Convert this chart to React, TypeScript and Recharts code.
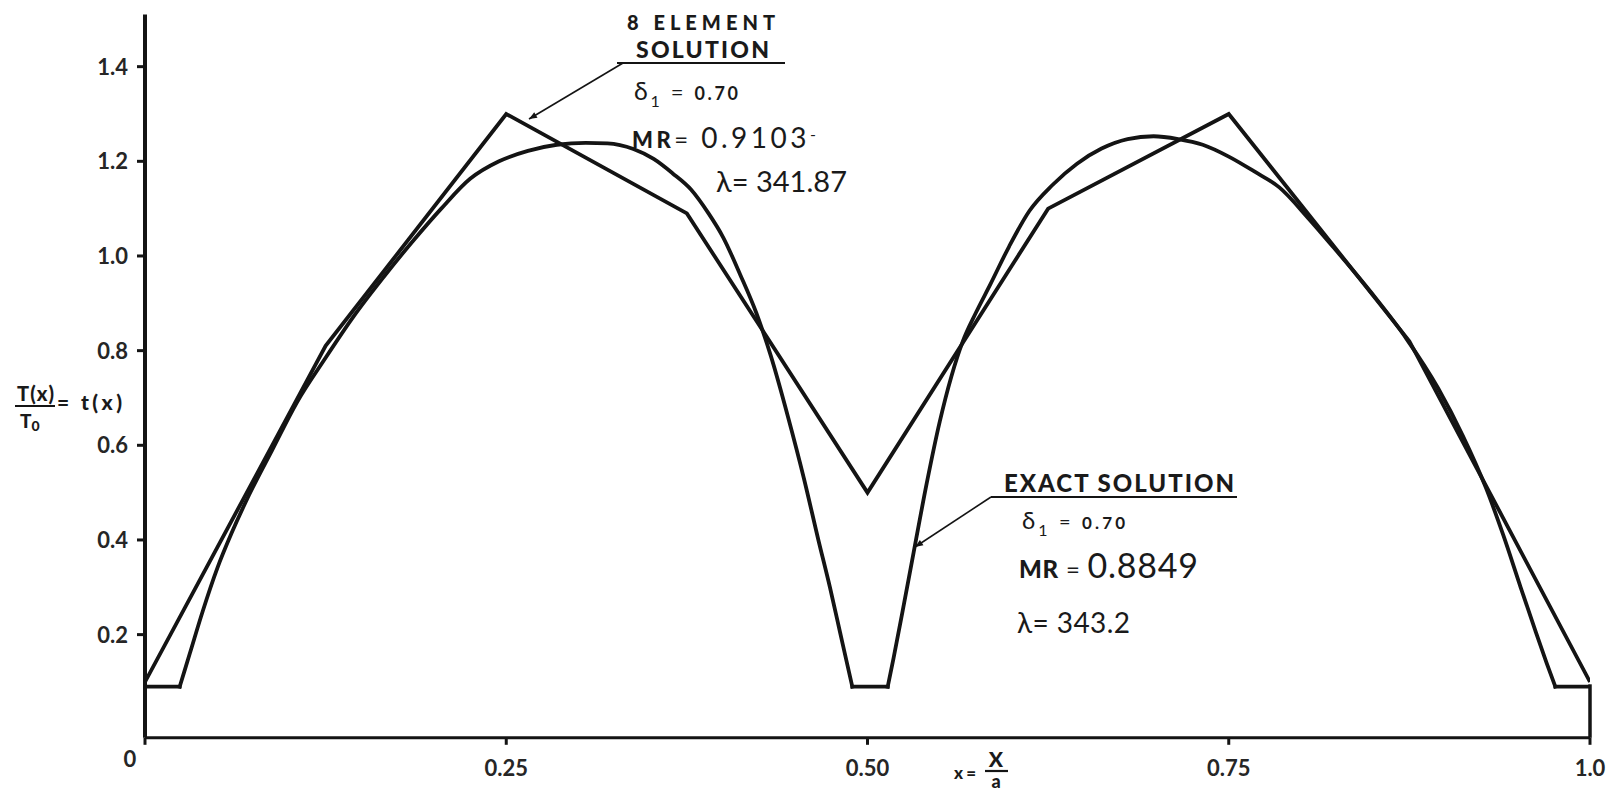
import React from 'react';
import { LineChart, Line, XAxis, YAxis, ReferenceLine } from 'recharts';

// 8-element finite element solution (nodal values)
const elementX = [0, 0.125, 0.25, 0.375, 0.5, 0.625, 0.75, 0.875, 1.0];
const elementT = [0.10, 0.81, 1.30, 1.09, 0.50, 1.10, 1.30, 0.82, 0.10];

// Exact solution
const exactX = [
  0.000, 0.024, 0.031, 0.040, 0.050, 0.060, 0.072, 0.088, 0.105, 0.125,
  0.145, 0.165, 0.185, 0.205, 0.225, 0.245, 0.265, 0.285, 0.305, 0.320,
  0.338, 0.352, 0.365, 0.378, 0.390, 0.400, 0.412, 0.423, 0.433, 0.445,
  0.456, 0.466, 0.474, 0.481, 0.486, 0.4895, 0.514, 0.518, 0.524, 0.532,
  0.541, 0.550, 0.558, 0.566, 0.575, 0.585, 0.598, 0.612, 0.628, 0.645,
  0.662, 0.680, 0.698, 0.715, 0.732, 0.750, 0.768, 0.785, 0.805, 0.822,
  0.848, 0.873, 0.895, 0.912, 0.928, 0.940, 0.952, 0.962, 0.970, 0.976,
  1.000,
];
const exactT = [
  0.09, 0.09, 0.16, 0.25, 0.34, 0.415, 0.495, 0.59, 0.69, 0.785,
  0.875, 0.955, 1.03, 1.10, 1.163, 1.200, 1.222, 1.235, 1.239, 1.238,
  1.226, 1.205, 1.175, 1.14, 1.09, 1.04, 0.96, 0.88, 0.79, 0.66,
  0.53, 0.40, 0.30, 0.205, 0.137, 0.09, 0.09, 0.15, 0.245, 0.375,
  0.52, 0.65, 0.745, 0.82, 0.88, 0.94, 1.02, 1.095, 1.15, 1.195,
  1.227, 1.247, 1.253, 1.247, 1.235, 1.21, 1.178, 1.145, 1.08, 1.02,
  0.925, 0.825, 0.72, 0.62, 0.51, 0.41, 0.30, 0.21, 0.14, 0.09,
  0.09,
];
// indices where the exact curve has sharp corners (ends of the flat floors)
const exactCorners = [0, 1, 35, 36, 69, 70];

const xTicks = [0, 0.25, 0.5, 0.75, 1.0];
const xTickLabels = ['0', '0.25', '0.50', '0.75', '1.0'];
const yTicks = [0.2, 0.4, 0.6, 0.8, 1.0, 1.2, 1.4];
const yTickLabels = ['0.2', '0.4', '0.6', '0.8', '1.0', '1.2', '1.4'];
const yDomain: [number, number] = [-0.018, 1.51];
const rightEdgeX = 1.0;
const rightEdgeTop = 0.095;

const elementData = elementX.map((x, i) => ({ x, t: elementT[i] }));
const exactData = exactX.map((x, i) => ({ x, t: exactT[i] }));
const exactSegments = exactCorners.slice(0, -1).map((start, k) =>
  exactData.slice(start, exactCorners[k + 1] + 1)
);

const INK = '#141414';
const FONT = "Lato, 'DejaVu Sans', sans-serif";

const YTick = (props: any) => {
  const { x, y, payload } = props;
  const i = yTicks.findIndex((v) => Math.abs(v - payload.value) < 1e-9);
  return (
    <text x={x} y={y} dy={8} textAnchor="end" fontFamily={FONT} fontSize={22} fontWeight={700} fill="#262626">
      {i >= 0 ? yTickLabels[i] : ''}
    </text>
  );
};

const XTick = (props: any) => {
  const { x, y, payload } = props;
  const i = xTicks.findIndex((v) => Math.abs(v - payload.value) < 1e-9);
  const isZero = i === 0;
  return (
    <text x={isZero ? x - 15 : x} y={y} dy={isZero ? 22 : 31} textAnchor="middle" fontFamily={FONT} fontSize={22} fontWeight={700} fill="#262626">
      {i >= 0 ? xTickLabels[i] : ''}
    </text>
  );
};

export default function App() {
  return (
    <div style={{ position: 'absolute', left: 0, top: 0, width: 1619, height: 798, background: '#fff' }}>
      <LineChart width={1619} height={798} margin={{ top: 14.6, right: 29, bottom: 10.2, left: 85 }}>
        <XAxis
          type="number"
          dataKey="x"
          domain={[0, 1]}
          ticks={xTicks}
          tick={<XTick />}
          tickSize={7}
          tickMargin={0}
          height={50}
          axisLine={{ stroke: INK, strokeWidth: 3 }}
          tickLine={{ stroke: INK, strokeWidth: 3 }}
          allowDataOverflow
        />
        <YAxis
          type="number"
          dataKey="t"
          domain={yDomain}
          ticks={yTicks}
          tick={<YTick />}
          tickSize={8}
          tickMargin={9}
          width={60}
          axisLine={{ stroke: INK, strokeWidth: 4 }}
          tickLine={{ stroke: INK, strokeWidth: 3 }}
          allowDataOverflow
        />
        <ReferenceLine
          segment={[{ x: rightEdgeX, y: yDomain[0] }, { x: rightEdgeX, y: rightEdgeTop }]}
          stroke={INK}
          strokeWidth={3.5}
          ifOverflow="visible"
        />
        {exactSegments.map((seg, k) => (
          <Line
            key={`exact-${k}`}
            data={seg}
            dataKey="t"
            type="monotoneX"
            stroke={INK}
            strokeWidth={3.8}
            dot={false}
            isAnimationActive={false}
            strokeLinejoin="miter"
            strokeLinecap="square"
          />
        ))}
        <Line
          data={elementData}
          dataKey="t"
          type="linear"
          stroke={INK}
          strokeWidth={3.8}
          dot={false}
          isAnimationActive={false}
          strokeLinejoin="miter"
        />
      </LineChart>

      <svg style={{ position: 'absolute', left: 0, top: 0, pointerEvents: 'none' }} width={1619} height={798}>
        <defs>
          <marker id="arr" viewBox="0 0 10 10" refX="10" refY="5" markerWidth="12" markerHeight="8" orient="auto" markerUnits="userSpaceOnUse">
            <path d="M0,1 L10,5 L0,9 z" fill={INK} />
          </marker>
        </defs>

        {/* Y axis label */}
        <g fontFamily={FONT} fill="#1a1a1a" fontWeight={900}>
          <text x={17} y={401} fontSize={20} textLength={37} lengthAdjust="spacing">T(x)</text>
          <line x1={15} y1={406} x2={55} y2={406} stroke={INK} strokeWidth={2.2} />
          <text x={20} y={428} fontSize={19}>
            T<tspan fontSize={14} dy={3}>0</tspan>
          </text>
          <text x={57} y={410} fontSize={21} textLength={65} lengthAdjust="spacing">= t(x)</text>
        </g>

        {/* X axis label */}
        <g fontFamily={FONT} fill="#1a1a1a" fontWeight={900}>
          <text x={954} y={779} fontSize={17} textLength={22} lengthAdjust="spacing">x=</text>
          <text x={996} y={767} textAnchor="middle" fontSize={21}>X</text>
          <line x1={985} y1={771} x2={1008} y2={771} stroke={INK} strokeWidth={2.2} />
          <text x={996} y={788} textAnchor="middle" fontSize={18}>a</text>
        </g>

        {/* 8 element annotation */}
        <g fontFamily={FONT} fill="#1a1a1a">
          <text x={627} y={30} fontSize={20} fontWeight={900} textLength={148} lengthAdjust="spacing">8 ELEMENT</text>
          <text x={636} y={58} fontSize={23} fontWeight={900} textLength={133} lengthAdjust="spacing">SOLUTION</text>
          <line x1={617} y1={63} x2={785} y2={63} stroke={INK} strokeWidth={2.2} />
          <line x1={623} y1={63} x2={529} y2={119} stroke={INK} strokeWidth={1.6} markerEnd="url(#arr)" />
          <text x={634} y={100} fontSize={25} textLength={104} lengthAdjust="spacing">
            δ<tspan fontSize={16} dy={7}>1</tspan>
            <tspan dy={-7} fontSize={22}> = </tspan>
            <tspan fontSize={18} fontWeight={700}>0.70</tspan>
          </text>
          <text x={632} y={148} textLength={184} lengthAdjust="spacing">
            <tspan fontWeight={900} fontSize={22}>MR</tspan>
            <tspan fontSize={24}>= </tspan>
            <tspan fontSize={28}>0.9103</tspan>
            <tspan fontSize={16} dy={-8}>-</tspan>
          </text>
          <text x={716} y={192} fontSize={29} textLength={131} lengthAdjust="spacing">λ= 341.87</text>
        </g>

        {/* Exact solution annotation */}
        <g fontFamily={FONT} fill="#1a1a1a">
          <text x={1004} y={492} fontSize={24} fontWeight={900} textLength={230} lengthAdjust="spacing">EXACT SOLUTION</text>
          <line x1={991} y1={497} x2={1237} y2={497} stroke={INK} strokeWidth={2.2} />
          <line x1={991} y1={497} x2={915} y2={547} stroke={INK} strokeWidth={1.6} markerEnd="url(#arr)" />
          <text x={1022} y={529} fontSize={24} textLength={103} lengthAdjust="spacing">
            δ<tspan fontSize={16} dy={7}>1</tspan>
            <tspan dy={-7} fontSize={20}> = </tspan>
            <tspan fontSize={17} fontWeight={700}>0.70</tspan>
          </text>
          <text x={1019} y={578} textLength={179} lengthAdjust="spacing">
            <tspan fontWeight={900} fontSize={24}>MR</tspan>
            <tspan fontSize={24}> = </tspan>
            <tspan fontSize={34}>0.8849</tspan>
          </text>
          <text x={1017} y={633} fontSize={28} textLength={113} lengthAdjust="spacing">λ= 343.2</text>
        </g>
      </svg>
    </div>
  );
}
